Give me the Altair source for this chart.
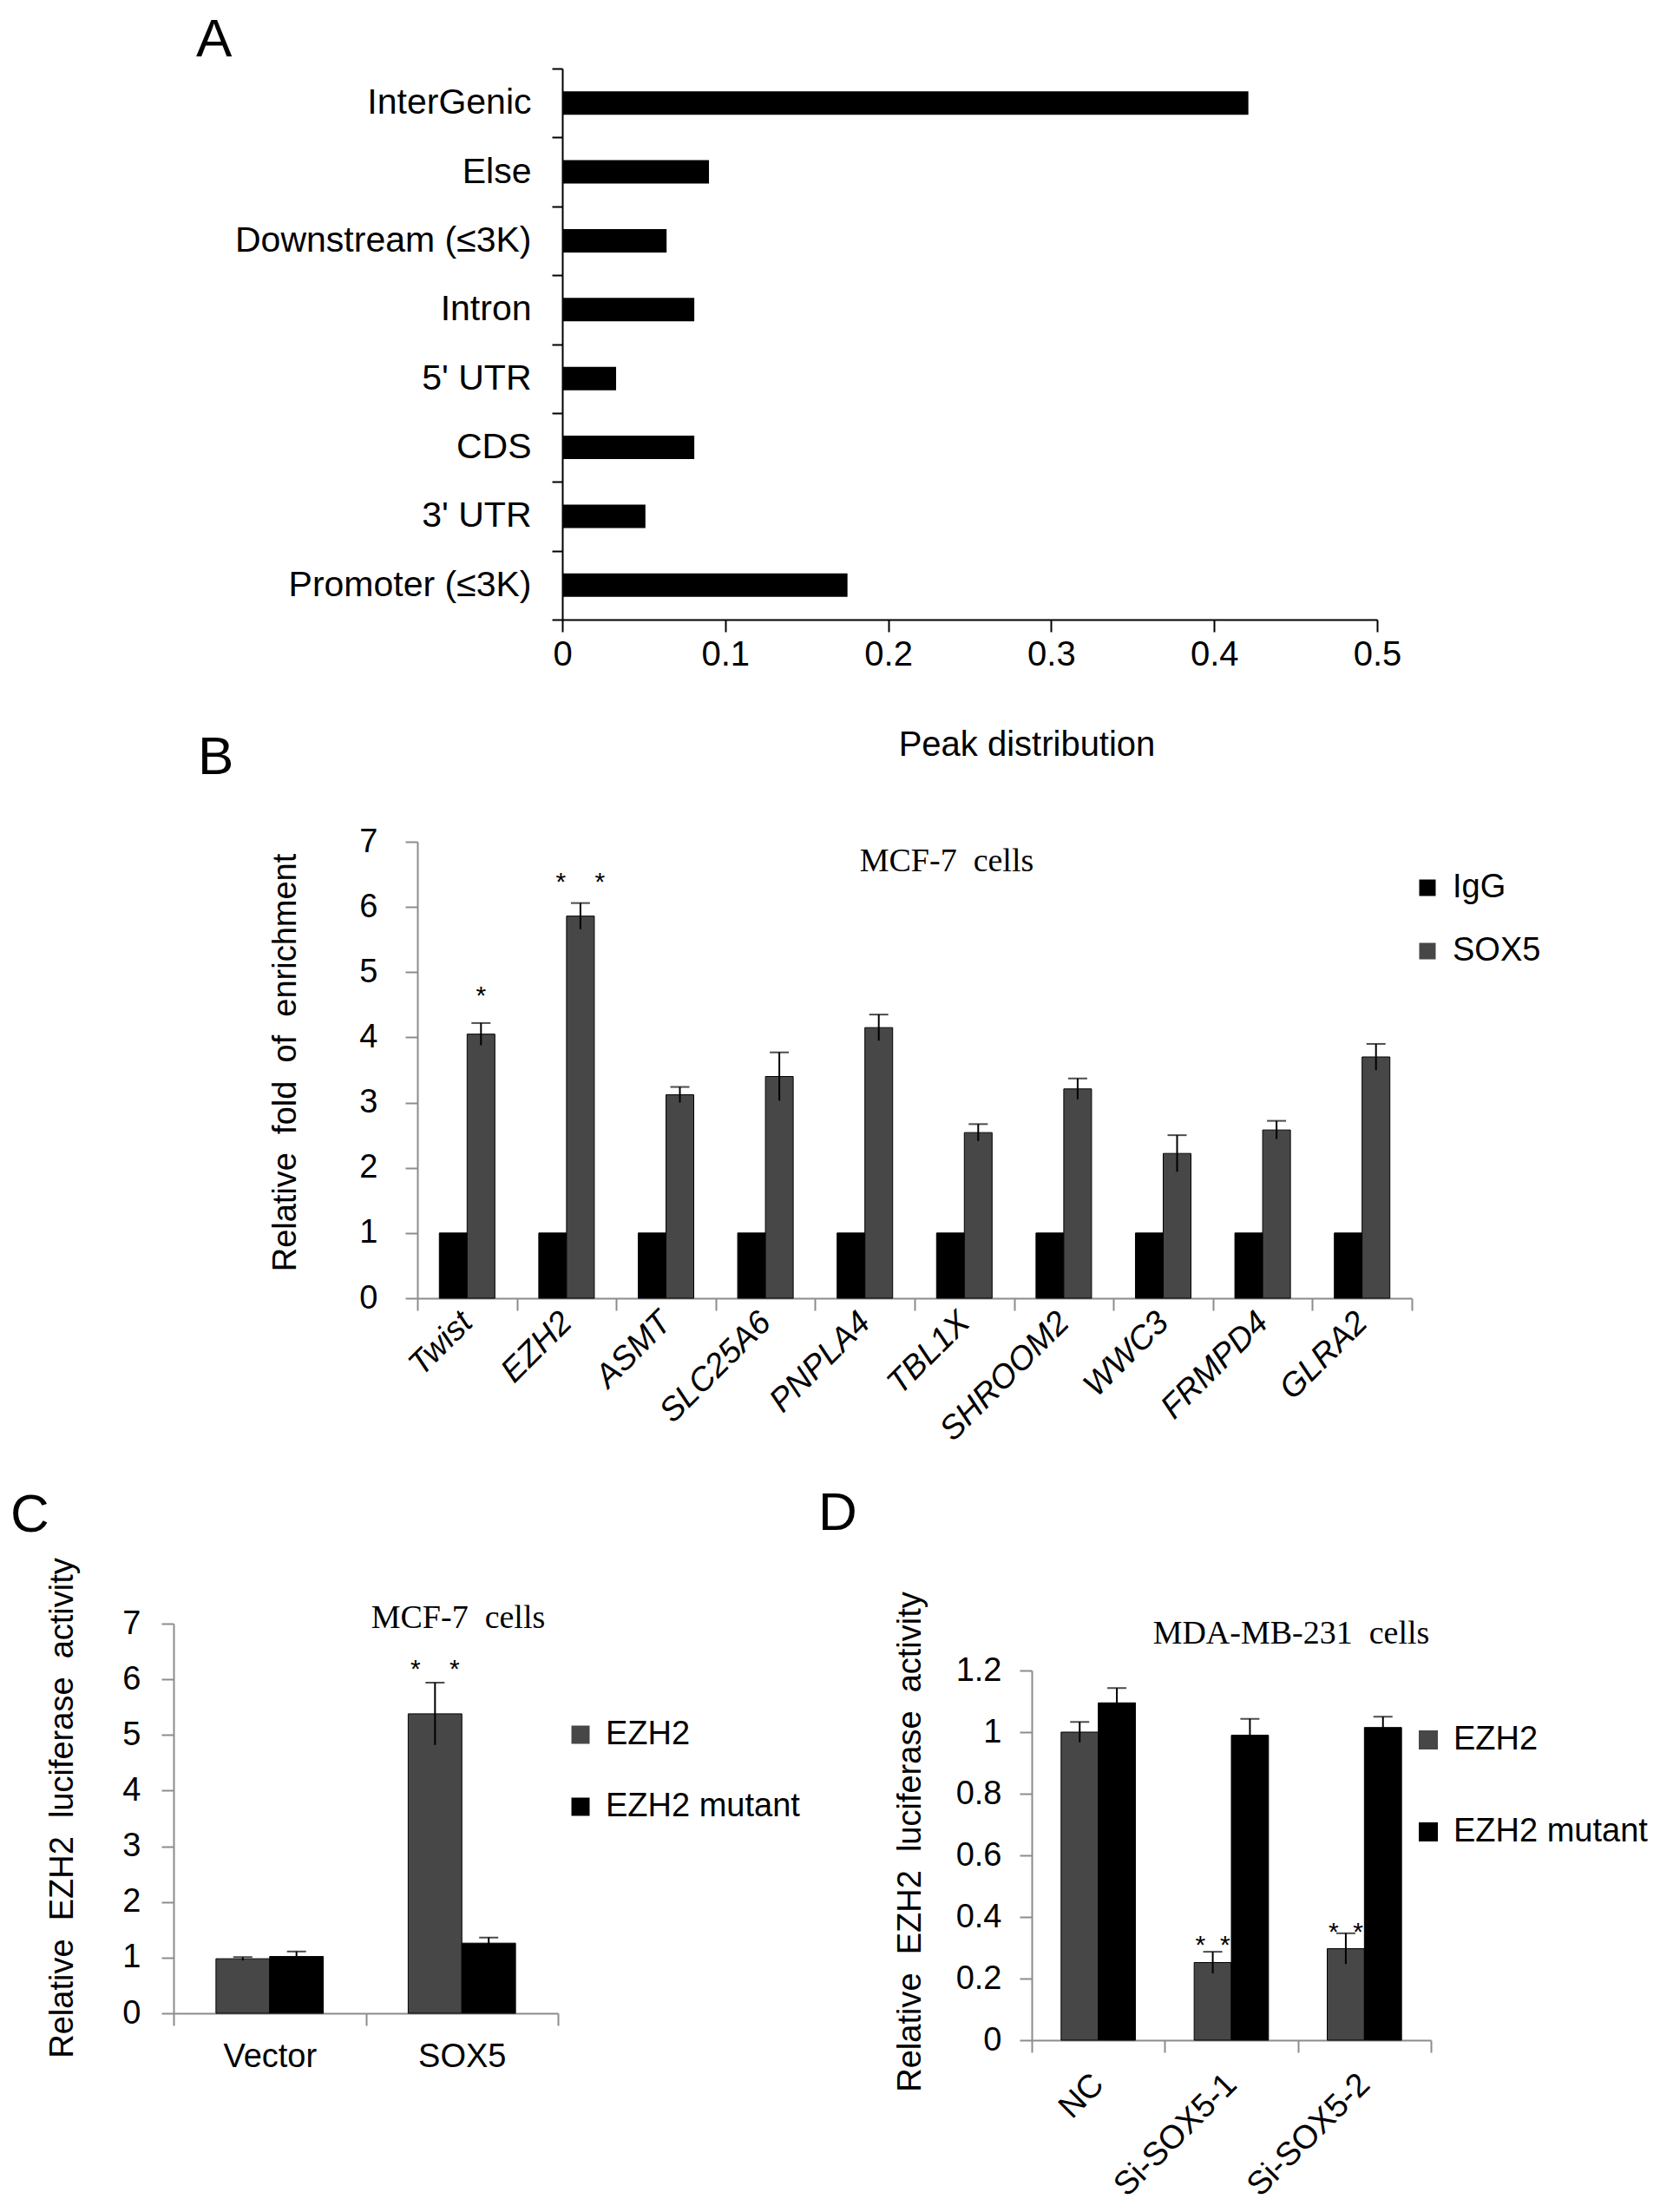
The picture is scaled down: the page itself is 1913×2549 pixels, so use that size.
import altair as alt
import pandas as pd

# ---- data ----
# A: peak distribution
a_regions = ["InterGenic", "Else", "Downstream (≤3K)", "Intron", "5' UTR", "CDS", "3' UTR", "Promoter (≤3K)"]
a_peaks = [0.421, 0.090, 0.064, 0.081, 0.033, 0.081, 0.051, 0.175]

# B: ChIP enrichment, MCF-7
b_genes = ["Twist", "EZH2", "ASMT", "SLC25A6", "PNPLA4", "TBL1X", "SHROOM2", "WWC3", "FRMPD4", "GLRA2"]
b_igg = [1.0, 1.0, 1.0, 1.0, 1.0, 1.0, 1.0, 1.0, 1.0, 1.0]
b_igg_err = [0.0, 0.0, 0.0, 0.0, 0.0, 0.0, 0.0, 0.0, 0.0, 0.0]
b_sox5 = [4.05, 5.86, 3.12, 3.40, 4.15, 2.54, 3.21, 2.22, 2.58, 3.70]
b_sox5_err = [0.17, 0.20, 0.12, 0.37, 0.20, 0.13, 0.16, 0.28, 0.14, 0.20]
b_star_genes = ["Twist", "EZH2"]
b_star_text = ["*", "*\u00a0\u00a0\u00a0\u00a0*"]
b_star_y = [4.72, 6.47]

# C: luciferase, MCF-7
c_groups = ["Vector", "SOX5"]
c_ezh2 = [0.98, 5.38]
c_ezh2_err = [0.03, 0.56]
c_mut = [1.02, 1.26]
c_mut_err = [0.09, 0.10]
c_star_groups = ["SOX5"]
c_star_text = ["*\u00a0\u00a0\u00a0\u00a0*"]
c_star_y = [6.28]

# D: luciferase, MDA-MB-231
d_groups = ["NC", "Si-SOX5-1", "Si-SOX5-2"]
d_ezh2 = [1.00, 0.252, 0.297]
d_ezh2_err = [0.033, 0.035, 0.05]
d_mut = [1.095, 0.99, 1.015]
d_mut_err = [0.048, 0.053, 0.035]
d_star_groups = ["Si-SOX5-1", "Si-SOX5-2"]
d_star_text = ["*\u00a0\u00a0*", "*\u00a0\u00a0*"]
d_star_y = [0.326, 0.369]

SANS = "Liberation Sans, Arial, sans-serif"
SERIF = "Liberation Serif, Times New Roman, serif"
PAT = "#474747"
GRAY = "#8c8c8c"
W, H = 1897, 2533


def axis(color, **kw):
    opts = dict(domainColor=color, domainWidth=2, tickColor=color, tickWidth=2, tickSize=14, grid=False,
                labelFont=SANS, labelFontSize=38, labelColor="black", labelLimit=0, titleFont=SANS,
                titleFontSize=38, titleFontWeight="normal", titleColor="black", titleLimit=0)
    opts.update(kw)
    return alt.Axis(**opts)


def legend(x, y, size, gap):
    return alt.Legend(orient="none", legendX=x, legendY=y, title=None, symbolType="square", symbolSize=size,
                      symbolStrokeWidth=0, symbolOpacity=1, labelFont=SANS, labelFontSize=38, labelColor="black",
                      labelLimit=0, rowPadding=gap, labelOffset=10, padding=0)


def label(text, x, y, size=38, font=SERIF):
    return alt.Chart(pd.DataFrame({"t": [text]})).mark_text(
        font=font, fontSize=size, align="center", baseline="middle", color="black"
    ).encode(text="t:N", x=alt.value(x), y=alt.value(y))


def grouped(df, stars, cat, order, series, colors, xs, ys, ydom, xaxis, yaxis, leg):
    xenc = alt.X(f"{cat}:N", sort=order, scale=alt.Scale(range=xs, paddingInner=0, paddingOuter=0), axis=xaxis)
    xoff = alt.XOffset("series:N", sort=series, scale=alt.Scale(domain=series, paddingInner=0, paddingOuter=0.79))
    ysc = alt.Scale(domain=ydom, range=ys, nice=False)
    bars = alt.Chart(df).mark_bar(stroke="black", strokeWidth=1).encode(
        x=xenc, xOffset=xoff,
        y=alt.Y("value:Q", scale=ysc, axis=yaxis),
        color=alt.Color("series:N", scale=alt.Scale(domain=series, range=colors), legend=leg),
    )
    errs = df[df["err"] > 0]
    rules = alt.Chart(errs).mark_rule(color="black", strokeWidth=2).encode(
        x=xenc, xOffset=xoff,
        y=alt.Y("lo:Q", scale=ysc, axis=yaxis), y2="hi:Q",
    )
    caps = alt.Chart(errs).mark_tick(color="black", thickness=2, size=22).encode(
        x=xenc, xOffset=xoff,
        y=alt.Y("hi:Q", scale=ysc, axis=yaxis),
    )
    star = alt.Chart(stars).mark_text(font=SANS, fontSize=30, color="black", baseline="middle", dy=7).encode(
        x=xenc, xOffset=xoff,
        y=alt.Y("y:Q", scale=ysc, axis=yaxis), text="text:N",
    )
    return bars + rules + caps + star


def long_df(cat, cats, names, vals, errs):
    rows = []
    for name, v, e in zip(names, vals, errs):
        for c, vv, ee in zip(cats, v, e):
            rows.append({cat: c, "series": name, "value": vv, "err": ee, "lo": vv - ee, "hi": vv + ee})
    return pd.DataFrame(rows)


# ---- A ----
a_df = pd.DataFrame({"region": a_regions, "peak": a_peaks})
panel_a = alt.Chart(a_df).mark_bar(color="black", height=27).encode(
    x=alt.X("peak:Q", scale=alt.Scale(domain=[0, 0.5], range=[640, 1579], nice=False),
            axis=axis("black", orient="bottom", offset=706 - H, values=[0, 0.1, 0.2, 0.3, 0.4, 0.5], format="~g",
                      labelFontSize=40, labelPadding=6, labelFlush=False, title="Peak distribution",
                      titleFontSize=40, titleX=1175, titleY=144, titleAlign="center", titleBaseline="middle")),
    y=alt.Y("region:N", sort=a_regions, scale=alt.Scale(range=[71, 706], paddingInner=0, paddingOuter=0),
            axis=axis("black", orient="left", offset=-640, tickBand="extent", tickSize=12, labelFontSize=41,
                      labelPadding=24, title=None)),
)

# ---- B ----
b_df = long_df("gene", b_genes, ["IgG", "SOX5"], [b_igg, b_sox5], [b_igg_err, b_sox5_err])
b_stars = pd.DataFrame({"gene": b_star_genes, "series": "SOX5", "text": b_star_text, "y": b_star_y})
panel_b = grouped(
    b_df, b_stars, "gene", b_genes, ["IgG", "SOX5"], ["black", PAT], [473, 1619], [1488, 962], [0, 7],
    axis(GRAY, orient="bottom", offset=1488 - H, tickBand="extent", labelAngle=315, labelAlign="right",
         labelBaseline="middle", labelPadding=8, labelFontStyle="italic", title=None),
    axis(GRAY, orient="left", offset=-473, values=list(range(8)), labelPadding=32,
         title="Relative\u00a0\u00a0fold\u00a0\u00a0of\u00a0\u00a0enrichment", titleX=-152, titleY=1216,
         titleAngle=270, titleAlign="center", titleBaseline="middle"),
    legend(1618, 996, 361, 35),
) + label("MCF-7\u00a0\u00a0cells", 1083, 985)

# ---- C ----
c_df = long_df("grp", c_groups, ["EZH2", "EZH2 mutant"], [c_ezh2, c_mut], [c_ezh2_err, c_mut_err])
c_stars = pd.DataFrame({"grp": c_star_groups, "series": "EZH2", "text": c_star_text, "y": c_star_y})
panel_c = grouped(
    c_df, c_stars, "grp", c_groups, ["EZH2", "EZH2 mutant"], [PAT, "black"], [192, 635], [2312, 1863], [0, 7],
    axis(GRAY, orient="bottom", offset=2312 - H, tickBand="extent", labelAngle=0, labelAlign="center",
         labelBaseline="top", labelPadding=17, title=None),
    axis(GRAY, orient="left", offset=-192, values=list(range(8)), labelPadding=24,
         title="Relative\u00a0\u00a0EZH2\u00a0\u00a0luciferase\u00a0\u00a0activity", titleX=-128, titleY=2075,
         titleAngle=270, titleAlign="center", titleBaseline="middle"),
    legend(642, 1972, 441, 45),
) + label("MCF-7\u00a0\u00a0cells", 520, 1857)

# ---- D ----
d_df = long_df("grp", d_groups, ["EZH2", "EZH2 mutant"], [d_ezh2, d_mut], [d_ezh2_err, d_mut_err])
d_stars = pd.DataFrame({"grp": d_star_groups, "series": "EZH2", "text": d_star_text, "y": d_star_y})
d_ticks = [0, 0.2, 0.4, 0.6, 0.8, 1.0, 1.2]
panel_d = grouped(
    d_df, d_stars, "grp", d_groups, ["EZH2", "EZH2 mutant"], [PAT, "black"], [1181, 1641], [2343, 1917],
    [0, 1.2],
    axis(GRAY, orient="bottom", offset=2343 - H, tickBand="extent", labelAngle=315, labelAlign="right",
         labelBaseline="middle", labelPadding=31, title=None),
    axis(GRAY, orient="left", offset=-1181, values=d_ticks, format="~g", labelPadding=21,
         title="Relative\u00a0\u00a0EZH2\u00a0\u00a0luciferase\u00a0\u00a0activity", titleX=-140, titleY=2114,
         titleAngle=270, titleAlign="center", titleBaseline="middle"),
    legend(1619, 1978, 484, 68),
) + label("MDA-MB-231\u00a0\u00a0cells", 1480, 1875)


def letter(ch, x, y):
    return alt.Chart(pd.DataFrame({"t": [ch]})).mark_text(
        font=SANS, fontSize=62, align="left", baseline="alphabetic", color="black"
    ).encode(text="t:N", x=alt.value(x), y=alt.value(y))


chart = alt.layer(
    panel_a, panel_b, panel_c, panel_d,
    letter("A", 218, 57), letter("B", 220, 884), letter("C", 4, 1757), letter("D", 935, 1755),
).resolve_scale(
    x="independent", y="independent", xOffset="independent", color="independent"
).resolve_axis(
    x="independent", y="independent"
).resolve_legend(
    color="independent"
).properties(
    width=W, height=H, padding=0, autosize=alt.AutoSizeParams(type="none")
).configure_view(strokeWidth=0)

chart.save("out.html", embed_options={"renderer": "svg", "actions": False})
